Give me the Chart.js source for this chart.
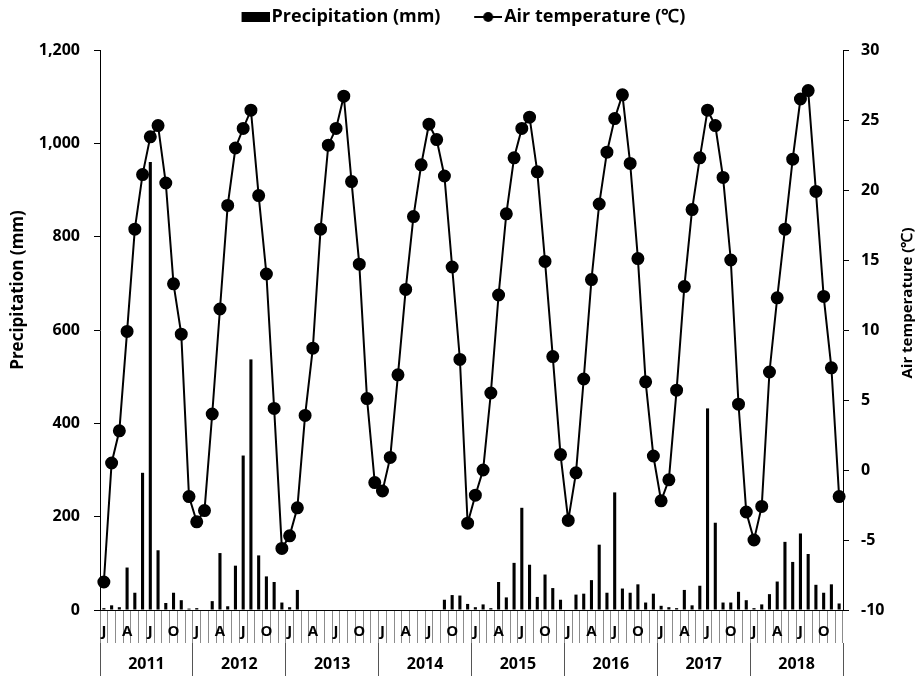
<!DOCTYPE html>
<html>
<head>
<meta charset="utf-8">
<script src="https://cdn.jsdelivr.net/npm/chart.js@4.4.1/dist/chart.umd.min.js"></script>
<style>
  html, body { margin: 0; padding: 0; background: #fff; }
  #wrap { width: 920px; height: 676px; }
</style>
</head>
<body>
<div id="wrap"><canvas id="myChart" width="920" height="676"></canvas></div>
<script>
const years = ['2011', '2012', '2013', '2014', '2015', '2016', '2017', '2018'];
const monthNames = ['Jan', 'Feb', 'Mar', 'Apr', 'May', 'Jun', 'Jul', 'Aug', 'Sep', 'Oct', 'Nov', 'Dec'];
const monthTicks = ['J', '', '', 'A', '', '', 'J', '', '', 'O', '', ''];
const seriesNames = ['Precipitation (mm)', 'Air temperature (℃)'];
const axisTitles = ['Precipitation (mm)', 'Air temperature (℃)'];

// monthly totals, mm (no record from Mar 2013 to Aug 2014)
const precipitation = [
    4, 10, 6, 91, 37, 294, 960, 128, 15, 37, 21, 3,
    4, 0, 19, 122, 8, 95, 331, 537, 117, 72, 60, 16,
    6, 43, null, null, null, null, null, null, null, null, null, null,
    null, null, null, null, null, null, null, null, 22, 32, 31, 13,
    6, 12, 4, 60, 27, 101, 219, 97, 28, 76, 47, 22,
    0, 33, 35, 64, 140, 37, 252, 46, 37, 55, 16, 35,
    9, 6, 4, 43, 10, 52, 432, 187, 16, 16, 39, 21,
    4, 12, 34, 61, 146, 103, 164, 120, 54, 37, 55, 14
];

// monthly mean, deg C
const airTemperature = [
    -8.0, 0.5, 2.8, 9.9, 17.2, 21.1, 23.8, 24.6, 20.5, 13.3, 9.7, -1.9,
    -3.7, -2.9, 4.0, 11.5, 18.9, 23.0, 24.4, 25.7, 19.6, 14.0, 4.4, -5.6,
    -4.7, -2.7, 3.9, 8.7, 17.2, 23.2, 24.4, 26.7, 20.6, 14.7, 5.1, -0.9,
    -1.5, 0.9, 6.8, 12.9, 18.1, 21.8, 24.7, 23.6, 21.0, 14.5, 7.9, -3.8,
    -1.8, 0.0, 5.5, 12.5, 18.3, 22.3, 24.4, 25.2, 21.3, 14.9, 8.1, 1.1,
    -3.6, -0.2, 6.5, 13.6, 19.0, 22.7, 25.1, 26.8, 21.9, 15.1, 6.3, 1.0,
    -2.2, -0.7, 5.7, 13.1, 18.6, 22.3, 25.7, 24.6, 20.9, 15.0, 4.7, -3.0,
    -5.0, -2.6, 7.0, 12.3, 17.2, 22.2, 26.5, 27.1, 19.9, 12.4, 7.3, -1.9
];

const categories = years.flatMap(y => monthNames.map(m => m + ' ' + y));
const FONT = 'Open Sans';

// legend icons: black box and line with dot
function makeIcon(kind) {
    const c = document.createElement('canvas');
    c.width = 42;
    c.height = 14;
    const g = c.getContext('2d');
    g.fillStyle = '#000';
    g.strokeStyle = '#000';
    if (kind === 'bar') {
        g.fillRect(14, 2, 28, 10);
    } else {
        g.lineWidth = 2;
        g.beginPath();
        g.moveTo(14, 7);
        g.lineTo(42, 7);
        g.stroke();
        g.beginPath();
        g.arc(28, 7, 5, 0, Math.PI * 2);
        g.fill();
    }
    return c;
}
const legendIcons = [makeIcon('bar'), makeIcon('line')];

const legendHeight = {
    id: 'legendHeight',
    beforeInit(chart) {
        const fit = chart.legend.fit;
        chart.legend.fit = function () {
            fit.bind(chart.legend)();
            this.height = 50;
        };
    }
};

// both side titles read bottom to top
const sideTitles = {
    id: 'sideTitles',
    afterDraw(chart) {
        const ctx = chart.ctx;
        const mid = (chart.chartArea.top + chart.chartArea.bottom) / 2;
        ctx.save();
        ctx.fillStyle = '#000';
        ctx.textAlign = 'center';
        ctx.textBaseline = 'middle';
        [[axisTitles[0], 17, 18, mid - 40], [axisTitles[1], 15, chart.width - 12, mid - 27]].forEach(([t, size, x, y]) => {
            ctx.save();
            ctx.font = 'bold ' + size + 'px "' + FONT + '"';
            ctx.translate(x, y);
            ctx.rotate(-Math.PI / 2);
            ctx.fillText(t, 0, 0);
            ctx.restore();
        });
        ctx.restore();
    }
};

const tickFont = { family: FONT, size: 16, weight: 'bold' };
const monthFont = { family: FONT, size: 15, weight: 'bold' };
const yearFont = { family: FONT, size: 16, weight: 'bold' };

const ctx = document.getElementById('myChart').getContext('2d');
const chart = new Chart(ctx, {
    type: 'bar',
    data: {
        labels: categories,
        datasets: [{
            type: 'bar',
            label: seriesNames[0],
            data: precipitation,
            xAxisID: 'x',
            yAxisID: 'y',
            backgroundColor: '#000',
            barPercentage: 0.4,
            categoryPercentage: 1.0,
            order: 2
        }, {
            type: 'line',
            label: seriesNames[1],
            data: airTemperature,
            xAxisID: 'x',
            yAxisID: 'y2',
            borderColor: '#000',
            borderWidth: 2,
            pointRadius: 5.5,
            pointBackgroundColor: '#000',
            pointBorderColor: '#000',
            tension: 0,
            order: 1
        }]
    },
    options: {
        responsive: false,
        animation: false,
        devicePixelRatio: 1,
        layout: { padding: 0 },
        plugins: {
            tooltip: { enabled: false },
            legend: {
                labels: {
                    usePointStyle: true,
                    pointStyleWidth: 28,
                    padding: 8,
                    color: '#000',
                    font: { family: FONT, size: 18, weight: 'bold' },
                    sort: (a, b) => a.datasetIndex - b.datasetIndex,
                    generateLabels(chart) {
                        const items = Chart.defaults.plugins.legend.labels.generateLabels(chart);
                        items.forEach(it => {
                            it.pointStyle = legendIcons[it.datasetIndex];
                            // a little extra room between the two entries
                            if (it.datasetIndex === 0) it.text = it.text + '    ';
                        });
                        return items;
                    }
                }
            }
        },
        scales: {
            x: {
                type: 'category',
                position: 'bottom',
                offset: true,
                weight: 0,
                grid: { offset: true, drawOnChartArea: false, tickLength: 33, color: '#8c8c8c' },
                border: { color: '#000', width: 1 },
                ticks: {
                    autoSkip: false,
                    maxRotation: 0,
                    minRotation: 0,
                    padding: -20,
                    color: '#000',
                    font: monthFont,
                    callback: (v, i) => monthTicks[i % 12]
                },
                afterFit: s => { s.height = 33; }
            },
            x2: {
                type: 'category',
                position: 'bottom',
                labels: years,
                offset: true,
                weight: 1,
                grid: { offset: true, drawOnChartArea: false, tickLength: 33, color: '#555' },
                border: { display: false },
                ticks: { autoSkip: false, maxRotation: 0, minRotation: 0, padding: -21, color: '#000', font: yearFont },
                afterFit: s => { s.height = 33; }
            },
            y: {
                position: 'left',
                min: 0,
                max: 1200,
                ticks: { stepSize: 200, padding: 14, color: '#000', font: tickFont },
                grid: { drawOnChartArea: false, tickLength: 6, color: '#000' },
                border: { color: '#000', width: 1 },
                afterFit: s => { s.width = 100; }
            },
            y2: {
                position: 'right',
                min: -10,
                max: 30,
                ticks: { stepSize: 5, padding: 12, color: '#000', font: tickFont },
                grid: { drawOnChartArea: false, tickLength: 6, color: '#000' },
                border: { color: '#000', width: 1 },
                afterFit: s => { s.width = 77; }
            }
        }
    },
    plugins: [legendHeight, sideTitles]
});
</script>
</body>
</html>
